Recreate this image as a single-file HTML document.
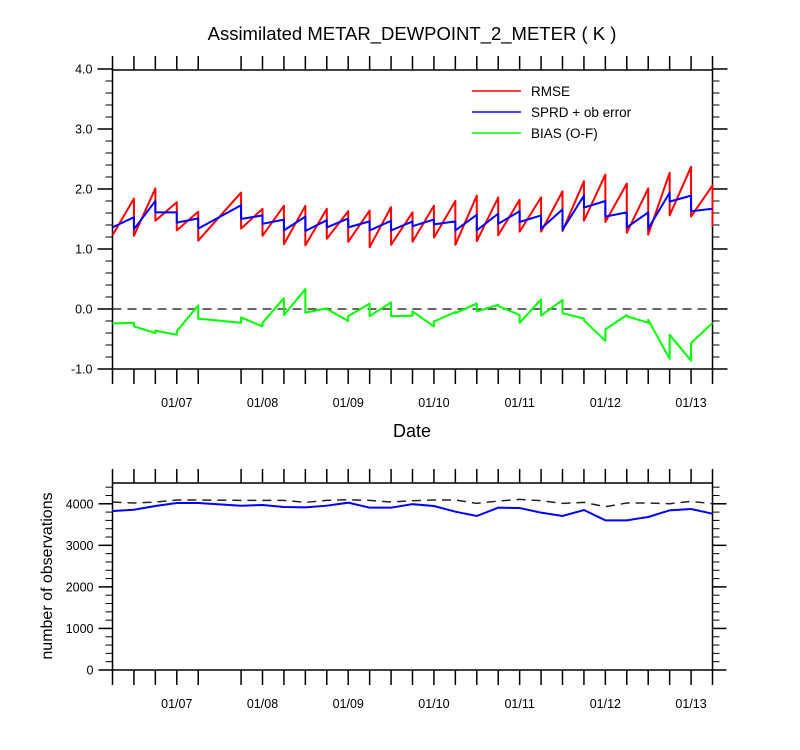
<!DOCTYPE html>
<html><head><meta charset="utf-8"><style>
body{margin:0;background:#fff;}
svg{display:block;font-family:"Liberation Sans",Arial,sans-serif;}
</style></head><body>
<svg id="c" width="800" height="750" viewBox="0 0 800 750">
<rect width="800" height="750" fill="#fff"/>
<text x="412" y="40" font-size="18.5" text-anchor="middle">Assimilated METAR_DEWPOINT_2_METER ( K )</text>
<g id="top"></g>
<g id="bot"></g>
<text x="412" y="437" font-size="18" text-anchor="middle">Date</text>
<text transform="translate(52,576) rotate(-90)" font-size="16" text-anchor="middle">number of observations</text>
<g>
<line x1="472" y1="91" x2="521" y2="91" stroke="#f00" stroke-width="1.5"/>
<text x="531" y="96" font-size="13.5">RMSE</text>
<line x1="472" y1="112" x2="521" y2="112" stroke="#00f" stroke-width="1.5"/>
<text x="531" y="117" font-size="13.5">SPRD + ob error</text>
<line x1="472" y1="133" x2="521" y2="133" stroke="#0f0" stroke-width="1.5"/>
<text x="531" y="138" font-size="13.5">BIAS (O-F)</text>
</g>
</svg>
<script>
// time indices (6-hourly cycles); index 5 missing
const times = [0,1,2,3,4,6,7,8,9,10,11,12,13,14,15,16,17,18,19,20,21,22,23,24,25,26,27,28];
const dateLabels = ["01/07","01/08","01/09","01/10","01/11","01/12","01/13"];
const dateLabelIdx = [3,7,11,15,19,23,27];
const rmseStart = [1.23,1.22,1.47,1.31,1.14,1.34,1.22,1.08,1.06,1.17,1.12,1.03,1.07,1.12,1.19,1.07,1.13,1.23,1.29,1.29,1.30,1.47,1.45,1.27,1.24,1.56,1.54,1.37];
const rmseEnd   = [1.84,2.01,1.78,1.62,1.94,1.67,1.72,1.72,1.67,1.63,1.64,1.70,1.61,1.72,1.80,1.89,1.86,1.82,1.86,1.96,2.13,2.24,2.09,2.01,2.27,2.37,2.06];
const sprdStart = [1.36,1.33,1.61,1.44,1.34,1.50,1.42,1.31,1.30,1.36,1.36,1.31,1.31,1.38,1.41,1.31,1.31,1.42,1.45,1.34,1.32,1.69,1.54,1.36,1.34,1.79,1.63,1.67];
const sprdEnd   = [1.53,1.80,1.61,1.51,1.73,1.56,1.49,1.54,1.48,1.51,1.46,1.47,1.46,1.49,1.46,1.57,1.59,1.63,1.56,1.66,1.89,1.80,1.61,1.61,1.94,1.89,1.67];
const biasStart = [-0.24,-0.29,-0.36,-0.37,-0.16,-0.14,-0.23,-0.10,-0.06,0.00,-0.12,-0.12,-0.12,-0.04,-0.21,-0.07,-0.04,0.05,-0.23,-0.11,-0.07,-0.19,-0.34,-0.12,-0.18,-0.43,-0.57,-0.23];
const biasEnd   = [-0.23,-0.40,-0.43,0.06,-0.23,-0.29,0.18,0.33,0.01,-0.20,0.09,0.11,-0.11,-0.29,-0.05,0.09,0.07,-0.10,0.16,0.15,-0.16,-0.53,-0.10,-0.23,-0.83,-0.86,-0.23];
const obsUsed  = [3826,3857,3946,4018,4018,3954,3970,3922,3914,3954,4026,3906,3906,3990,3946,3810,3706,3906,3898,3786,3706,3850,3602,3602,3682,3842,3874,3762];
const obsTotal = [4042,4018,4042,4090,4090,4082,4082,4082,4034,4082,4098,4082,4042,4074,4090,4090,4010,4066,4106,4074,4010,4034,3930,4018,4018,4002,4058,4002];
const topTicks = [-1,0,1,2,3,4];
const botTicks = [0,1000,2000,3000,4000];

const NS="http://www.w3.org/2000/svg";
function el(tag,attrs,parent){const e=document.createElementNS(NS,tag);for(const k in attrs)e.setAttribute(k,attrs[k]);parent.appendChild(e);return e;}
const X0=112.5,X1=712.5;
const xs=t=>X0+(X1-X0)*t/28;
const yT=v=>369-(v+1)*60;
const yB=v=>670-v*(187/4500);

function panel(g,top,bot,yf,ticks,minorStep,vmin,vmax,fmt,tickLen){
  const r=el('rect',{x:X0,y:top,width:X1-X0,height:bot-top,fill:'none',stroke:'#000','stroke-width':1.5},g);
  
  
  times.forEach(t=>{
    const a=el('line',{x1:xs(t),x2:xs(t),y1:top,y2:top-14,stroke:'#000','stroke-width':1.5},g);
    
    
    const b=el('line',{x1:xs(t),x2:xs(t),y1:bot,y2:bot+15,stroke:'#000','stroke-width':1.5},g);
    
    
  });
  dateLabelIdx.forEach((t,i)=>{
    const tx=el('text',{x:xs(t),y:bot+38,'font-size':12.5,'text-anchor':'middle'},g);
    tx.textContent=dateLabels[i];
    
    
  });
  for(let v=vmin;v<=vmax+1e-9;v+=minorStep){
    [[X0,X0-7],[X1,X1+7]].forEach(p=>{
      const m=el('line',{x1:p[0],x2:p[1],y1:yf(v),y2:yf(v),stroke:'#000','stroke-width':1},g);
      
      
    });
  }
  ticks.forEach(v=>{
    [[X0,X0-tickLen],[X1,X1+tickLen]].forEach(p=>{
      const m=el('line',{x1:p[0],x2:p[1],y1:yf(v),y2:yf(v),stroke:'#000','stroke-width':1.5},g);
      
      
    });
    const tx=el('text',{x:X0-tickLen-5,y:yf(v)+4.5,'font-size':12.5,'text-anchor':'end'},g);
    tx.textContent=fmt(v);
    
    
  });
}
const gt=document.getElementById('top'), gb=document.getElementById('bot');
panel(gt,70,369,yT,topTicks,0.2,-1,4,v=>v.toFixed(1),15);
panel(gb,483,670,yB,botTicks,200,0,4400,v=>String(v),14);

const z=el('line',{x1:X0,x2:X1,y1:yT(0),y2:yT(0),stroke:'#333','stroke-width':1.5,'stroke-dasharray':'9,6'},gt);



function saw(start,end,color,name){
  let d='';
  for(let i=0;i<times.length;i++){
    d+=(i===0?'M':'L')+xs(times[i])+','+yT(start[i]);
    if(i<times.length-1) d+='L'+xs(times[i+1])+','+yT(end[i]);
  }
  const p=el('path',{d:d,fill:'none',stroke:color,'stroke-width':2,'stroke-linejoin':'round'},gt);
  
  
}
saw(rmseStart,rmseEnd,'#f00','rmse-line');
saw(sprdStart,sprdEnd,'#00f','sprd-line');
saw(biasStart,biasEnd,'#0f0','bias-line');

function line(vals,attrs,name){
  const d=vals.map((v,i)=>(i?'L':'M')+xs(times[i])+','+yB(v)).join('');
  const p=el('path',Object.assign({d:d,fill:'none'},attrs),gb);
  
  
}
line(obsTotal,{stroke:'#222','stroke-width':1.5,'stroke-dasharray':'9,6'},'obs-total-line');
line(obsUsed,{stroke:'#00f','stroke-width':2},'obs-used-line');
</script>
</body></html>
